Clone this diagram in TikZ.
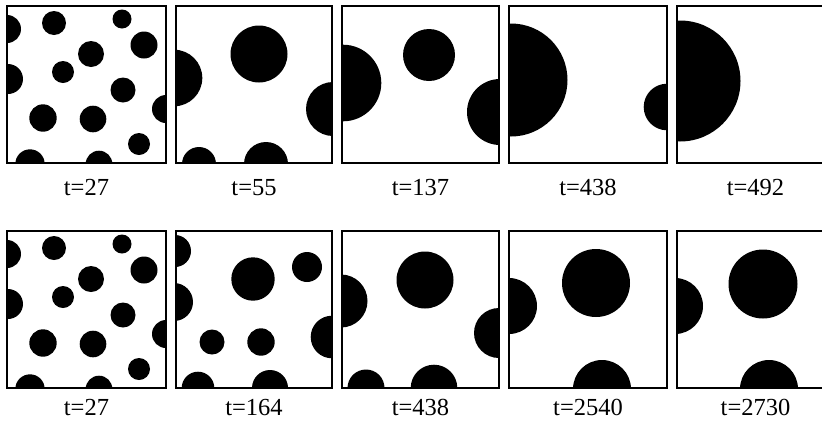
\documentclass[tikz,border=0pt]{standalone}
\usepackage{fontspec}
\setmainfont{Liberation Serif}
\begin{document}
\begin{tikzpicture}[x=1pt,y=-1pt,
  frame/.style={draw=black,line width=1.2pt},
  blob/.style={fill=black},
  tlabel/.style={font=\fontsize{24.5}{28}\selectfont,inner sep=0pt,anchor=base}]
\clip (0,0) rectangle (822,424);
\fill[white] (0,0) rectangle (822,424);
% ---------- Row 1 ----------
% panel 1 (t=27)
\begin{scope}
\clip (7,6) rectangle (166,163);
\foreach \cx/\cy/\r in {7/29/14, 54/23/12, 122/19/9.5, 144/45/13.5, 91/54/13, 63/72/11, 8/79/15, 123/90/12.5, 166/109/14, 43/118/13.7, 93/119/13.3, 139/144/11, 30/164/14.7, 99/164/13.3}
  \fill[blob] (\cx,\cy) circle[radius=\r pt];
\end{scope}
\draw[frame] (7,6) rectangle (166,163);
% panel 2 (t=55)
\begin{scope}
\clip (176,6) rectangle (332,163);
\foreach \cx/\cy/\r in {259/54/28.5, 174/78/28.3, 333/109/27, 199/164/17, 266/164/22}
  \fill[blob] (\cx,\cy) circle[radius=\r pt];
\end{scope}
\draw[frame] (176,6) rectangle (332,163);
% panel 3 (t=137)
\begin{scope}
\clip (342,6) rectangle (499,163);
\foreach \cx/\cy/\r in {429/55/26, 343/83/38.3, 500/112/33}
  \fill[blob] (\cx,\cy) circle[radius=\r pt];
\end{scope}
\draw[frame] (342,6) rectangle (499,163);
% panel 4 (t=438)
\begin{scope}
\clip (509,6) rectangle (667,163);
\foreach \cx/\cy/\r in {511/80/56.5, 667/107/23.3}
  \fill[blob] (\cx,\cy) circle[radius=\r pt];
\end{scope}
\draw[frame] (509,6) rectangle (667,163);
% panel 5 (t=492)
\begin{scope}
\clip (677,6) rectangle (834,163);
\fill[blob] (680,81) circle[radius=60.5pt];
\end{scope}
\draw[frame] (677,6) rectangle (834,163);
% labels row 1
\node[tlabel] (l11) at (86.5,195) {t=27};
\node[tlabel] (l12) at (254,195) {t=55};
\node[tlabel] (l13) at (420.5,195) {t=137};
\node[tlabel] (l14) at (588,195) {t=438};
\node[tlabel] (l15) at (755.5,195) {t=492};
% ---------- Row 2 ----------
% panel 1 (t=27)
\begin{scope}[yshift=-225pt]
\clip (7,6) rectangle (166,163);
\foreach \cx/\cy/\r in {7/29/14, 54/23/12, 122/19/9.5, 144/45/13.5, 91/54/13, 63/72/11, 8/79/15, 123/90/12.5, 166/109/14, 43/118/13.7, 93/119/13.3, 139/144/11, 30/164/14.7, 99/164/13.3}
  \fill[blob] (\cx,\cy) circle[radius=\r pt];
\end{scope}
\draw[frame] (7,231) rectangle (166,388);
% panel 2 (t=164)
\begin{scope}
\clip (176,231) rectangle (332,388);
\foreach \cx/\cy/\r in {175/251/16, 253/279/21.7, 307/267/15, 174/302/19, 332/337/21.3, 212/342/12.5, 261/342/13.7, 198/388/16.3, 270/388/18}
  \fill[blob] (\cx,\cy) circle[radius=\r pt];
\end{scope}
\draw[frame] (176,231) rectangle (332,388);
% panel 3 (t=438)
\begin{scope}
\clip (342,231) rectangle (499,388);
\foreach \cx/\cy/\r in {425/280/28.5, 341/301/26.5, 499/333/25, 366/388/18.5, 434/388/23.3}
  \fill[blob] (\cx,\cy) circle[radius=\r pt];
\end{scope}
\draw[frame] (342,231) rectangle (499,388);
% panel 4 (t=2540)
\begin{scope}
\clip (509,231) rectangle (667,388);
\foreach \cx/\cy/\r in {596/283/34, 509/306/28, 602/389/29}
  \fill[blob] (\cx,\cy) circle[radius=\r pt];
\end{scope}
\draw[frame] (509,231) rectangle (667,388);
% panel 5 (t=2730)
\begin{scope}
\clip (677,231) rectangle (834,388);
\foreach \cx/\cy/\r in {763/284/34.5, 675/306/28, 769/389/29}
  \fill[blob] (\cx,\cy) circle[radius=\r pt];
\end{scope}
\draw[frame] (677,231) rectangle (834,388);
% labels row 2
\node[tlabel] (l21) at (86.5,415) {t=27};
\node[tlabel] (l22) at (254,415) {t=164};
\node[tlabel] (l23) at (420.5,415) {t=438};
\node[tlabel] (l24) at (588,415) {t=2540};
\node[tlabel] (l25) at (755.5,415) {t=2730};
\end{tikzpicture}
\end{document}
